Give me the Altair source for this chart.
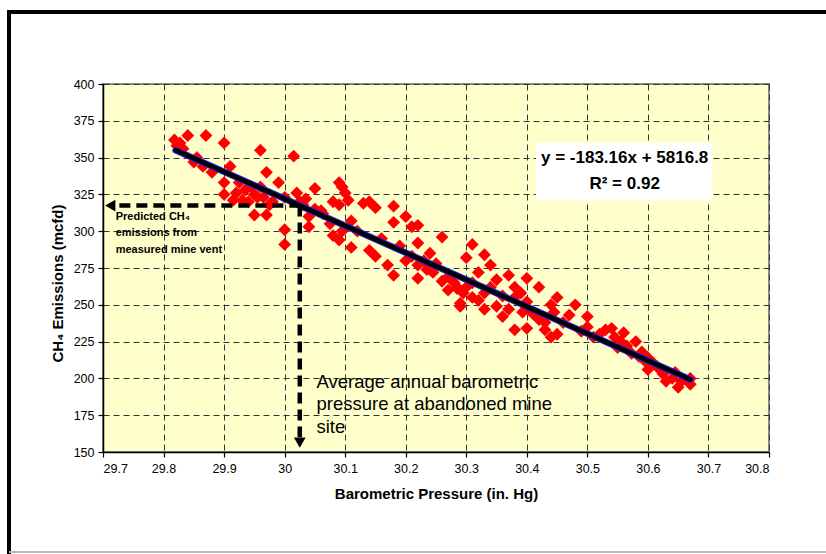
import altair as alt
import pandas as pd

# Measured barometric pressure (in. Hg) and CH4 emissions (mcfd)
pressure = [
    29.818, 29.822, 29.827, 29.832, 29.84, 29.87, 29.855, 29.865, 29.90, 29.91,
    29.90, 29.90, 29.915, 29.92, 29.93, 29.935, 29.94, 29.945, 29.95, 29.955,
    29.95, 29.96, 29.965, 29.97, 29.97, 29.975, 29.99, 30.00, 30.00, 30.00,
    30.015, 30.02, 30.025, 30.035, 30.04, 30.04, 30.05, 30.06, 30.063,
    30.09, 30.10, 30.105, 30.08, 30.09, 30.095, 30.13, 30.14, 30.15, 30.18,
    30.18, 30.20, 30.21, 30.22, 30.26, 30.22, 30.11, 30.08, 30.09, 30.095,
    30.11, 30.14, 30.15, 30.17, 30.18, 30.20, 30.22, 30.22, 30.235, 30.25,
    30.245, 30.27, 30.28, 30.285, 30.295, 30.30, 30.29, 30.31, 30.33, 30.34,
    30.32, 30.35, 30.37, 30.40, 30.42, 30.38, 30.27, 30.285, 30.29, 30.31,
    30.32, 30.33, 30.35, 30.36, 30.37, 30.38, 30.40, 30.393, 30.40, 30.41,
    30.43, 30.44, 30.45, 30.45, 30.44, 30.445, 30.47, 30.48, 30.50, 30.50,
    30.52, 30.53, 30.54, 30.56, 30.545, 30.55, 30.58, 30.573, 30.59, 30.60,
    30.60, 30.61, 30.62, 30.63, 30.645, 30.65, 30.67, 30.67,
    30.26, 30.30, 30.31, 30.33, 30.34, 30.36, 30.38, 30.39, 30.40, 30.42,
    30.43, 30.46, 30.49, 30.51, 30.555, 30.565, 30.585, 30.595, 30.615, 30.625,
    30.64, 30.655, 30.24, 30.23, 30.21, 30.19, 30.16, 30.12, 30.075, 30.05,
    30.03, 29.98, 29.96, 29.925, 29.88, 29.85,
]
emissions = [
    362, 358, 360, 356, 365, 365, 350, 344, 360, 344,
    333, 325, 321, 326, 321, 328, 320, 330, 325, 323,
    311, 355, 323, 340, 311, 318, 333, 323, 301, 291,
    351, 326, 320, 322, 310, 303, 329, 314, 312,
    333, 326, 321, 320, 318, 330, 319, 320, 316, 317,
    306, 310, 303, 304, 296, 292, 307, 297, 294, 300,
    289, 287, 283, 277, 270, 280, 277, 268, 274, 278,
    272, 269, 265, 261, 258, 282, 251, 291, 284, 277,
    272, 267, 270, 268, 262, 262, 260, 262, 249, 255,
    253, 247, 249, 242, 247, 233, 234, 245, 248, 244,
    233, 228, 230, 255, 250, 245, 243, 250, 242, 235,
    230, 233, 234, 231, 228, 221, 225, 217, 218, 214,
    206, 210, 206, 198, 204, 194, 200, 196,
    266, 262, 265, 258, 262, 256, 255, 258, 252, 240,
    238, 238, 232, 228, 225, 222, 215, 212, 208, 203,
    200, 198, 285, 280, 283, 290, 295, 300, 305, 315,
    318, 320, 330, 333, 340, 347,
]

# Linear fit reported on the chart
slope = -183.16
intercept = 5816.8
r_squared = 0.92
fit_range = [29.82, 30.67]

# Average annual barometric pressure at the abandoned mine site
site_pressure = 30.025

x_ticks = [29.7, 29.8, 29.9, 30.0, 30.1, 30.2, 30.3, 30.4, 30.5, 30.6, 30.7, 30.8]
y_ticks = [150, 175, 200, 225, 250, 275, 300, 325, 350, 375, 400]

FONT = "Liberation Sans"

points = pd.DataFrame({"pressure": pressure, "emissions": emissions})
fit = pd.DataFrame({
    "pressure": fit_range,
    "emissions": [slope * v + intercept for v in fit_range],
})
predicted = slope * site_pressure + intercept

x_scale = alt.Scale(domain=[29.7, 30.8], nice=False, zero=False)
y_scale = alt.Scale(domain=[150, 400], nice=False, zero=False)
x_axis = alt.Axis(values=x_ticks, format=".3~g", title="Barometric Pressure (in. Hg)")
y_axis = alt.Axis(values=y_ticks, title="CH₄ Emissions (mcfd)")


def X(field="pressure"):
    return alt.X(f"{field}:Q", scale=x_scale, axis=x_axis)


def Y(field="emissions"):
    return alt.Y(f"{field}:Q", scale=y_scale, axis=y_axis)


scatter = alt.Chart(points).mark_point(
    shape="diamond", filled=True, size=165, color="#FF0000", opacity=1
).encode(x=X(), y=Y())

fit_edge = alt.Chart(fit).mark_line(color="#2020E0", strokeWidth=6.5, strokeCap="round").encode(x=X(), y=Y())
fit_core = alt.Chart(fit).mark_line(color="black", strokeWidth=4.5, strokeCap="round").encode(x=X(), y=Y())

# Dashed arrows: site pressure up to the fit, then across to the emissions axis
h_arrow = pd.DataFrame({"pressure": [29.727], "p2": [site_pressure], "emissions": [predicted]})
v_arrow = pd.DataFrame({"pressure": [site_pressure], "emissions": [predicted], "e2": [160.0]})
heads = pd.DataFrame({
    "pressure": [29.712, site_pressure],
    "emissions": [predicted, 156.3],
    "shape": ["triangle-left", "triangle-down"],
})

h_rule = alt.Chart(h_arrow).mark_rule(color="black", strokeWidth=4.5, strokeDash=[11, 6]).encode(
    x=X(), x2="p2:Q", y=Y()
)
v_rule = alt.Chart(v_arrow).mark_rule(color="black", strokeWidth=4.5, strokeDash=[11, 6]).encode(
    x=X(), y=Y(), y2="e2:Q"
)
arrow_heads = alt.Chart(heads).mark_point(filled=True, size=140, color="black", opacity=1).encode(
    x=X(), y=Y(), shape=alt.Shape("shape:N", scale=None, legend=None)
)

# Annotation texts
pred_lines = pd.DataFrame({
    "pressure": [29.721] * 3,
    "emissions": [309.9, 298.6, 287.2],
    "text": ["Predicted CH₄", "emissions from", "measured mine vent"],
})
pred_text = alt.Chart(pred_lines).mark_text(
    align="left", baseline="middle", font=FONT, fontSize=11, fontWeight="bold", color="black"
).encode(x=X(), y=Y(), text="text:N")

site_lines = pd.DataFrame({
    "pressure": [30.0526] * 3,
    "emissions": [197.8, 182.6, 166.8],
    "text": ["Average annual barometric", "pressure at abandoned mine", "site"],
})
site_text = alt.Chart(site_lines).mark_text(
    align="left", baseline="middle", font=FONT, fontSize=18.5, color="black"
).encode(x=X(), y=Y(), text="text:N")

# Equation box
box = pd.DataFrame({"pressure": [30.415], "p2": [30.707], "emissions": [360.1], "e2": [320.7]})
eq_box = alt.Chart(box).mark_rect(color="white", opacity=1).encode(
    x=X(), x2="p2:Q", y=Y(), y2="e2:Q"
)
eq_lines = pd.DataFrame({
    "pressure": [30.5616, 30.5616],
    "emissions": [349.7, 332.1],
    "text": [f"y = {slope:.2f}x + {intercept:.1f}", f"R² = {r_squared:.2f}"],
})
eq_text = alt.Chart(eq_lines).mark_text(
    align="center", baseline="middle", font=FONT, fontSize=17, fontWeight="bold", color="black"
).encode(x=X(), y=Y(), text="text:N")

# Outer frame around the figure
frame_left = alt.Chart(points).mark_rule(color="black", strokeWidth=3.5).encode(
    x=alt.value(-94), y=alt.value(-73), y2=alt.value(470)
)
frame_top = alt.Chart(points).mark_rule(color="black", strokeWidth=3.5).encode(
    x=alt.value(-96), x2=alt.value(730), y=alt.value(-72)
)
frame_bottom = alt.Chart(points).mark_rule(color="#BBBBBB", strokeWidth=1.5).encode(
    x=alt.value(-94), x2=alt.value(730), y=alt.value(468)
)

chart = alt.layer(
    scatter, fit_edge, fit_core, h_rule, v_rule, arrow_heads,
    pred_text, site_text, eq_box, eq_text,
    frame_left, frame_top, frame_bottom,
).properties(
    width=666,
    height=368,
    autosize=alt.AutoSizeParams(type="none"),
    padding={"left": 103, "top": 84, "right": 57, "bottom": 102},
    background="white",
).configure_view(
    fill="#FFFFCC", stroke="#888888", strokeWidth=2
).configure_axis(
    labelFont=FONT, labelFontSize=12.5, labelColor="black",
    titleFont=FONT, titleFontSize=15, titleFontWeight="bold", titleColor="black",
    tickColor="black", tickSize=5, tickWidth=1.2,
    domainColor="black", domainWidth=1.5,
    grid=True, gridColor="#333333", gridDash=[6, 4], gridWidth=1, gridOpacity=1,
).configure_axisX(
    labelPadding=5, titlePadding=12,
).configure_axisY(
    labelPadding=4, titlePadding=8, titleY=199,
)

chart.save("out.html", embed_options={"renderer": "svg", "actions": False})
